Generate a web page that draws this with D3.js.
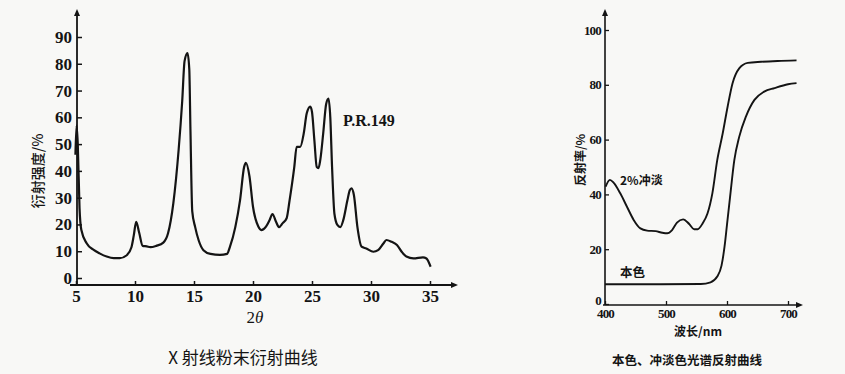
<!DOCTYPE html>
<html>
<head>
<meta charset="utf-8">
<script src="https://cdn.jsdelivr.net/npm/d3@7"></script>
<style>
  html, body { margin: 0; padding: 0; background: #f8f8f6; }
  svg { display: block; }
</style>
</head>
<body>
<svg id="chart" width="845" height="374"></svg>
<script>
// ---------- DATA ----------
// Left: X-ray powder diffraction curve (2θ, intensity %)
const xrdTheta = [4.95, 5.05, 5.15, 5.3, 5.45, 5.9, 6.5, 7.0, 7.6, 8.2, 8.7, 9.3, 9.7, 9.9, 10.1, 10.35, 10.65, 11.0, 11.3, 11.8, 12.4, 12.8, 13.25, 13.7, 14.0, 14.2, 14.45, 14.6, 14.7, 14.85, 15.1, 15.4, 15.8, 16.4, 17.2, 17.8, 18.05, 18.5, 18.9, 19.25, 19.4, 19.7, 20.0, 20.45, 20.7, 21.1, 21.4, 21.65, 21.95, 22.2, 22.5, 22.85, 23.1, 23.5, 23.7, 24.0, 24.3, 24.55, 24.85, 25.0, 25.2, 25.4, 25.55, 25.7, 25.95, 26.2, 26.4, 26.55, 26.7, 26.9, 27.15, 27.4, 27.65, 28.0, 28.2, 28.35, 28.55, 28.85, 29.2, 29.6, 30.2, 30.6, 31.05, 31.3, 31.75, 32.2, 32.6, 33.0, 33.6, 34.4, 34.7, 35.05];
const xrdIntensity = [46, 57, 50, 26, 18, 13, 10.5, 9.2, 8.0, 7.4, 7.4, 8.5, 11.5, 16, 21, 17, 12, 11.8, 11.5, 12, 13.2, 16.7, 28, 48, 66, 81, 84, 78, 55, 25, 19, 14, 10.4, 9.0, 8.6, 9.0, 11.7, 19, 29, 41.5, 43, 38, 26.6, 19.2, 17.9, 19.2, 21.6, 23.9, 21, 19, 20.4, 22.3, 29, 41.5, 49, 49, 54, 61.4, 64, 62, 51.5, 41.5, 41, 44, 54, 65, 67, 60, 41.5, 24, 19.8, 19, 21.6, 29, 32.8, 33.5, 31, 19, 11.7, 11, 9.8, 10.4, 12.9, 14.2, 13.5, 12.3, 9.8, 8.0, 7.3, 7.7, 7.3, 4.2];
const xrdXTicks = [5, 10, 15, 20, 25, 30, 35];
const xrdYTicks = [0, 10, 20, 30, 40, 50, 60, 70, 80, 90];

// Right: spectral reflectance curves (wavelength nm, reflectance %)
const tintWave = [401, 408, 414, 425, 436, 447, 458, 469, 483, 494, 502, 510, 518, 528, 538, 546, 552, 560, 568, 576, 584, 593, 601, 609, 620, 634, 656, 683, 714];
const tintRefl = [42.8, 45.3, 44.3, 40.4, 35.5, 30.7, 27.6, 26.8, 26.6, 26.0, 25.8, 27.0, 29.7, 30.9, 29.2, 27.3, 27.3, 29.4, 33.0, 40.4, 52.5, 62.3, 72.0, 80.5, 86.0, 88.0, 88.4, 88.7, 88.9];
const massWave = [400, 491, 557, 573, 584, 591, 596, 600, 605, 612, 620, 631, 645, 661, 678, 700, 714];
const massRefl = [7.2, 7.2, 7.3, 7.9, 10, 14, 21, 29, 39, 52.5, 61, 68.4, 74.5, 77.5, 78.8, 80.2, 80.6];
const specXTicks = [400, 500, 600, 700];
const specYTicks = [0, 20, 40, 60, 80, 100];

// ---------- DRAW ----------
const svg = d3.select("#chart");
const ink = "#141414";
const numFont = "'Liberation Serif', 'DejaVu Serif', serif";
const cjkFont = "'Noto Sans CJK SC', 'Noto Sans', sans-serif";

function arrowHead(g, x, y, dir) {
  const s = 7, w = 3;
  let pts;
  if (dir === "up") pts = [[x, y], [x - w, y + s], [x + w, y + s]];
  else pts = [[x, y], [x - s, y - w], [x - s, y + w]];
  g.append("path").attr("d", d3.line()(pts) + "Z").attr("fill", ink);
}

// ===== Left chart =====
{
  const x = d3.scaleLinear().domain([5, 35]).range([76, 430]);
  const y = d3.scaleLinear().domain([0, 90]).range([278, 37]);
  const axisY = 285; // x-axis baseline (slightly below 0)
  const g = svg.append("g");

  g.append("line").attr("x1", 77).attr("x2", 77).attr("y1", axisY).attr("y2", 12)
    .attr("stroke", ink).attr("stroke-width", 1.8);
  arrowHead(g, 77, 9, "up");
  g.append("line").attr("x1", 70).attr("x2", 452).attr("y1", axisY).attr("y2", axisY)
    .attr("stroke", ink).attr("stroke-width", 1.8);
  arrowHead(g, 458, axisY, "right");

  const ya = d3.axisLeft(y).tickValues(xrdYTicks).tickSize(-5).tickPadding(5);
  const yg = g.append("g").attr("transform", "translate(77,0)").call(ya);
  yg.select(".domain").remove();
  yg.selectAll("line").attr("stroke", ink).attr("stroke-width", 1.5);
  yg.selectAll("text").attr("font-family", numFont).attr("font-weight", "bold")
    .attr("font-size", 17).attr("fill", ink);

  const xa = d3.axisBottom(x).tickValues(xrdXTicks).tickSize(-4).tickPadding(5);
  const xg = g.append("g").attr("transform", `translate(0,${axisY})`).call(xa);
  xg.select(".domain").remove();
  xg.selectAll("line").attr("stroke", ink).attr("stroke-width", 1.5);
  xg.selectAll("text").attr("font-family", numFont).attr("font-weight", "bold")
    .attr("font-size", 17).attr("fill", ink);

  const pts = xrdTheta.map((t, i) => [t, xrdIntensity[i]]);
  g.append("path").datum(pts)
    .attr("d", d3.line().x(d => x(d[0])).y(d => y(d[1])).curve(d3.curveMonotoneX))
    .attr("fill", "none").attr("stroke", ink).attr("stroke-width", 2.2)
    .attr("stroke-linejoin", "round");

  g.append("text").attr("x", 343).attr("y", 126).text("P.R.149")
    .attr("font-family", numFont).attr("font-size", 16).attr("font-weight", 600).attr("fill", ink);
  const tl = g.append("text").attr("x", 255).attr("y", 323).attr("text-anchor", "middle")
    .attr("font-family", numFont).attr("font-size", 17).attr("fill", ink);
  tl.append("tspan").text("2");
  tl.append("tspan").attr("font-style", "italic").text("θ");
  g.append("text").attr("transform", "translate(43,171) rotate(-90)")
    .attr("text-anchor", "middle").attr("font-family", cjkFont).attr("font-size", 14)
    .attr("font-weight", 500).attr("fill", ink).text("衍射强度/%");
  g.append("text").attr("x", 243).attr("y", 364).attr("text-anchor", "middle")
    .attr("font-family", cjkFont).attr("font-size", 17).attr("fill", ink)
    .text("X 射线粉末衍射曲线");
}

// ===== Right chart =====
{
  const x = d3.scaleLinear().domain([400, 700]).range([605, 788]);
  const y = d3.scaleLinear().domain([0, 100]).range([304, 30]);
  const axisY = 305;
  const g = svg.append("g");

  g.append("line").attr("x1", 605).attr("x2", 605).attr("y1", axisY).attr("y2", 12)
    .attr("stroke", ink).attr("stroke-width", 1.6);
  arrowHead(g, 605, 9, "up");
  g.append("line").attr("x1", 603).attr("x2", 797).attr("y1", axisY).attr("y2", axisY)
    .attr("stroke", ink).attr("stroke-width", 1.6);
  arrowHead(g, 803, axisY, "right");

  const ya = d3.axisLeft(y).tickValues(specYTicks).tickSize(-4).tickPadding(4);
  const yg = g.append("g").attr("transform", "translate(605,0)").call(ya);
  yg.select(".domain").remove();
  yg.selectAll("line").attr("stroke", ink).attr("stroke-width", 1.3);
  yg.selectAll("text").attr("font-family", numFont).attr("font-weight", "bold")
    .attr("font-size", 13).attr("letter-spacing", -0.8).attr("fill", ink);
  // lift the "0" label slightly so it clears the x-axis labels
  yg.selectAll(".tick").filter(d => d === 0).select("text").attr("dy", "0.05em");

  const xa = d3.axisBottom(x).tickValues(specXTicks).tickSize(-4).tickPadding(4);
  const xg = g.append("g").attr("transform", `translate(0,${axisY})`).call(xa);
  xg.select(".domain").remove();
  xg.selectAll("line").attr("stroke", ink).attr("stroke-width", 1.3);
  xg.selectAll("text").attr("font-family", numFont).attr("font-weight", "bold")
    .attr("font-size", 13).attr("letter-spacing", -0.8).attr("fill", ink);

  const line = d3.line().x(d => x(d[0])).y(d => y(d[1])).curve(d3.curveMonotoneX);
  g.append("path").datum(tintWave.map((w, i) => [w, tintRefl[i]]))
    .attr("d", line).attr("fill", "none").attr("stroke", ink).attr("stroke-width", 1.9);
  g.append("path").datum(massWave.map((w, i) => [w, massRefl[i]]))
    .attr("d", line).attr("fill", "none").attr("stroke", ink).attr("stroke-width", 1.9);

  g.append("text").attr("x", 620).attr("y", 185).attr("font-family", cjkFont)
    .attr("font-size", 12).attr("font-weight", "bold").attr("fill", ink).text("2%冲淡");
  g.append("text").attr("x", 620).attr("y", 277).attr("font-family", cjkFont)
    .attr("font-size", 12.5).attr("font-weight", "bold").attr("fill", ink).text("本色");
  g.append("text").attr("transform", "translate(585,160) rotate(-90)")
    .attr("text-anchor", "middle").attr("font-family", cjkFont).attr("font-size", 12)
    .attr("font-weight", "bold").attr("fill", ink).text("反射率/%");
  g.append("text").attr("x", 698).attr("y", 336).attr("text-anchor", "middle")
    .attr("font-family", cjkFont).attr("font-size", 12).attr("font-weight", "bold")
    .attr("fill", ink).text("波长/nm");
  g.append("text").attr("x", 687).attr("y", 365).attr("text-anchor", "middle")
    .attr("font-family", cjkFont).attr("font-size", 12.5).attr("font-weight", "bold")
    .attr("fill", ink).text("本色、冲淡色光谱反射曲线");
}
</script>
</body>
</html>
